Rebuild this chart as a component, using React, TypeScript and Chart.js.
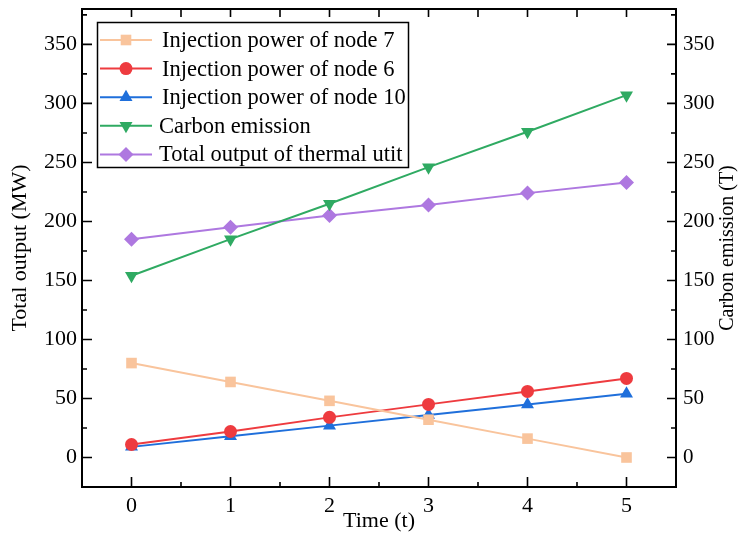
import React, { useEffect, useRef } from 'react';
import { Chart, registerables } from 'chart.js';

Chart.register(...registerables);

const timeSteps = [0, 1, 2, 3, 4, 5];
const node7Power = [80, 64, 48, 32, 16, 0];
const node6Power = [11, 22, 34, 45, 56, 67];
const node10Power = [9, 18, 27, 36, 45, 54];
const carbonEmission = [154, 185, 215, 246, 276, 307];
const thermalOutput = [185, 195, 205, 214, 224, 233];
const yTickValues = [0, 50, 100, 150, 200, 250, 300, 350];
const xTickValues = [0, 1, 2, 3, 4, 5];
const seriesLabels = [
  'Injection power of node 7',
  'Injection power of node 6',
  'Injection power of node 10',
  'Carbon emission',
  'Total output of thermal utit',
];
const rightAxisTitle = 'Carbon emission (T)';

const FONT = '"Liberation Serif", "Times New Roman", serif';

const colors = ['#F9C49C', '#EE3B3F', '#1F6FDB', '#2FAA62', '#AE78E0'];
const pointStyles = ['rect', 'circle', 'triangle', 'triangle', 'rectRot'];
const rotations = [0, 0, 0, 180, 0];
const radii = [7.5, 6.5, 7.5, 7.5, 7.5];

function drawMarker(ctx: CanvasRenderingContext2D, style: string, rot: number, x: number, y: number, r: number) {
  ctx.beginPath();
  if (style === 'circle') {
    ctx.arc(x, y, r, 0, Math.PI * 2);
  } else if (style === 'rect') {
    const s = Math.SQRT1_2 * r;
    ctx.rect(x - s, y - s, 2 * s, 2 * s);
  } else if (style === 'rectRot') {
    ctx.moveTo(x, y - r);
    ctx.lineTo(x + r, y);
    ctx.lineTo(x, y + r);
    ctx.lineTo(x - r, y);
    ctx.closePath();
  } else if (style === 'triangle') {
    let rad = (rot * Math.PI) / 180;
    ctx.moveTo(x + Math.sin(rad) * r, y - Math.cos(rad) * r);
    rad += (2 * Math.PI) / 3;
    ctx.lineTo(x + Math.sin(rad) * r, y - Math.cos(rad) * r);
    rad += (2 * Math.PI) / 3;
    ctx.lineTo(x + Math.sin(rad) * r, y - Math.cos(rad) * r);
    ctx.closePath();
  }
  ctx.fill();
}

const framePlugin = {
  id: 'frameTicks',
  afterDraw(chart: any) {
    const { ctx, chartArea } = chart;
    const { left, right, top, bottom } = chartArea;
    const xs = chart.scales.x;
    const ys = chart.scales.y;
    ctx.save();
    ctx.strokeStyle = '#000';
    ctx.lineWidth = 1.6;
    ctx.beginPath();
    for (let v = -25; v <= 380; v += 25) {
      const py = ys.getPixelForValue(v);
      if (py <= top + 1 || py >= bottom - 1) continue;
      const major = v % 50 === 0;
      const lenL = major ? 10 : 5;
      const lenR = major ? 9 : 5;
      ctx.moveTo(left, py);
      ctx.lineTo(left + lenL, py);
      ctx.moveTo(right, py);
      ctx.lineTo(right - lenR, py);
    }
    for (let v = -0.5; v <= 5.5; v += 0.5) {
      const px = xs.getPixelForValue(v);
      if (px <= left + 1 || px >= right - 1) continue;
      const major = Math.abs(v - Math.round(v)) < 1e-6;
      const len = major ? 10 : 5;
      ctx.moveTo(px, bottom);
      ctx.lineTo(px, bottom - len);
      ctx.moveTo(px, top);
      ctx.lineTo(px, top + 8);
    }
    ctx.stroke();
    ctx.lineWidth = 2;
    ctx.strokeRect(left, top, right - left, bottom - top);

    // right axis title (reads bottom to top)
    ctx.save();
    ctx.translate(728, (top + bottom) / 2);
    ctx.rotate(-Math.PI / 2);
    ctx.fillStyle = '#000';
    ctx.font = `20px ${FONT}`;
    ctx.textAlign = 'center';
    ctx.textBaseline = 'middle';
    ctx.fillText(rightAxisTitle, 0, 0);
    ctx.restore();

    // legend
    const bx = 97.5, by = 22.5, bw = 311, bh = 145;
    ctx.fillStyle = '#fff';
    ctx.fillRect(bx, by, bw, bh);
    ctx.lineWidth = 1.5;
    ctx.strokeStyle = '#000';
    ctx.strokeRect(bx, by, bw, bh);
    chart.data.datasets.forEach((ds: any, i: number) => {
      const cy = 40 + i * 28.6;
      ctx.strokeStyle = ds.borderColor;
      ctx.lineWidth = 2;
      ctx.beginPath();
      ctx.moveTo(100, cy);
      ctx.lineTo(152, cy);
      ctx.stroke();
      ctx.fillStyle = ds.backgroundColor;
      drawMarker(ctx, pointStyles[i], rotations[i], 126, cy, radii[i]);
      ctx.fillStyle = '#000';
      ctx.font = `22.5px ${FONT}`;
      ctx.textBaseline = 'middle';
      ctx.textAlign = 'left';
      ctx.fillText(ds.label, i >= 3 ? 159 : 162, cy + 1);
    });
    ctx.restore();
  },
};

export default function App() {
  const ref = useRef<HTMLCanvasElement>(null);
  useEffect(() => {
    document.body.style.margin = '0';
    const series = [node7Power, node6Power, node10Power, carbonEmission, thermalOutput];
    const datasets = series.map((vals, i) => ({
      label: seriesLabels[i],
      data: vals.map((v, j) => ({ x: timeSteps[j], y: v })),
      borderColor: colors[i],
      backgroundColor: colors[i],
      pointBackgroundColor: colors[i],
      pointBorderWidth: 0,
      pointStyle: pointStyles[i] as any,
      rotation: rotations[i],
      pointRadius: radii[i],
      borderWidth: 2,
      yAxisID: i === 3 ? 'y1' : 'y',
    }));
    const tickFont = { family: FONT, size: 22 };
    const vFit = (w: number) => (s: any) => {
      s.width = w;
      s.paddingTop = 0;
      s.paddingBottom = 0;
    };
    const chart = new Chart(ref.current!, {
      type: 'line',
      data: { datasets },
      plugins: [framePlugin],
      options: {
        animation: false,
        responsive: false,
        maintainAspectRatio: false,
        layout: { padding: { top: 9, left: 0, right: 0, bottom: 0 } },
        plugins: { legend: { display: false }, tooltip: { enabled: false } },
        scales: {
          x: {
            type: 'linear',
            min: -0.5,
            max: 5.5,
            afterBuildTicks: (s: any) => { s.ticks = xTickValues.map((v) => ({ value: v })); },
            afterFit: (s: any) => { s.height = 47; s.paddingLeft = 0; s.paddingRight = 0; },
            grid: { display: false, drawTicks: false },
            border: { display: false },
            ticks: { font: tickFont, color: '#000', padding: 6, maxRotation: 0 },
            title: { display: true, text: 'Time (t)', font: { family: FONT, size: 22 }, color: '#000', padding: { top: 0, bottom: 0 } },
          },
          y: {
            type: 'linear',
            position: 'left',
            min: -25,
            max: 380,
            afterBuildTicks: (s: any) => { s.ticks = yTickValues.map((v) => ({ value: v })); },
            afterFit: vFit(82),
            grid: { display: false, drawTicks: false },
            border: { display: false },
            ticks: { font: tickFont, color: '#000', padding: 5 },
            title: { display: true, text: 'Total output (MW)', font: { family: FONT, size: 22 }, color: '#000', padding: { top: 7, bottom: 0 } },
          },
          y1: {
            type: 'linear',
            position: 'right',
            min: -25,
            max: 380,
            afterBuildTicks: (s: any) => { s.ticks = yTickValues.map((v) => ({ value: v })); },
            afterFit: vFit(65),
            grid: { display: false, drawTicks: false },
            border: { display: false },
            ticks: { font: { family: FONT, size: 21 }, color: '#000', padding: 7 },
            title: { display: false },
          },
        },
      },
    });
    return () => chart.destroy();
  }, []);
  return (
    <div style={{ width: 741, height: 534 }}>
      <canvas ref={ref} width={741} height={534} style={{ display: 'block' }} />
    </div>
  );
}
